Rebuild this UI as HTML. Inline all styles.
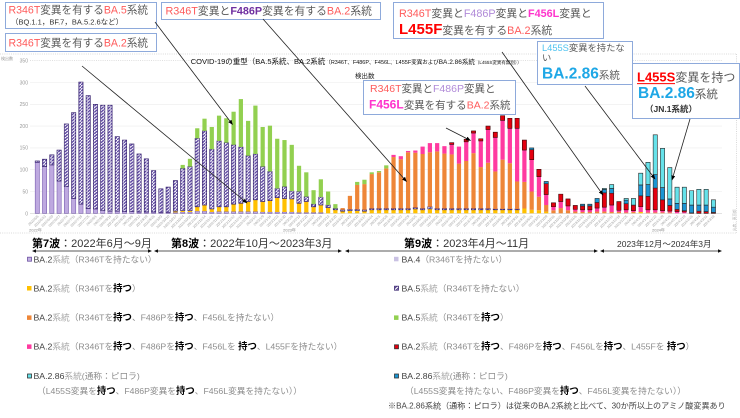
<!DOCTYPE html>
<html><head><meta charset="utf-8"><style>
html,body{margin:0;padding:0;background:#fff}
body{width:740px;height:418px;overflow:hidden;position:relative}
svg{position:absolute;left:0;top:0;font-family:"Liberation Sans","Noto Sans CJK JP",sans-serif}
.a{fill:#bea9e0;stroke:#7a5fb0;stroke-width:.6px;vector-effect:non-scaling-stroke}
.h{fill:url(#hp);stroke:#3a2670;stroke-width:.7px;vector-effect:non-scaling-stroke}
.y{fill:#ffc000}
.g{fill:#92d050}
.o{fill:#ee8638}
.k{fill:#ff3aa0}
.r{fill:#e3000f;stroke:#3a0a0a;stroke-width:.6px;vector-effect:non-scaling-stroke}
.c{fill:#66e2ea;stroke:#2a2a2a;stroke-width:.6px;vector-effect:non-scaling-stroke}
.b{fill:#1b95d3;stroke:#2a2a2a;stroke-width:.6px;vector-effect:non-scaling-stroke}
.gr{fill:#595959}.co{fill:#ff5b5b}
.lg{fill:#8c8c8c}.ld{fill:#404040}.ll{fill:#a6a6a6}
.bd{fill:#000;font-weight:bold;font-size:9.4px}
.bx{fill:#fff;stroke:#8eaadb;stroke-width:1}
</style></head><body>
<svg width="740" height="418" viewBox="0 0 740 418" xmlns="http://www.w3.org/2000/svg">
<defs>
<pattern id="hp" patternUnits="userSpaceOnUse" width="0.45" height="7">
<rect width="0.45" height="7" fill="#fff"/>
<polygon points="0,0 0.14,0 0.45,4.8 0.45,7 0.31,7 0,2.2" fill="#5a43a0"/>
</pattern>
<pattern id="hp2" patternUnits="userSpaceOnUse" width="2.4" height="2.4" patternTransform="rotate(45)">
<rect width="2.4" height="2.4" fill="#fff"/><rect width="1.1" height="2.4" fill="#4a3486"/>
</pattern>
<marker id="ah" viewBox="0 0 10 10" refX="9" refY="5" markerWidth="5" markerHeight="5" markerUnits="userSpaceOnUse" orient="auto"><path d="M0,1 L10,5 L0,9z" fill="#000"/></marker>
</defs>

<!-- chart frame -->
<g fill="none" stroke="#cfcfcf" stroke-width=".8" stroke-dasharray="1,1.2">
<line x1="0" y1="54" x2="737" y2="54"/>
<line x1="736.5" y1="54" x2="736.5" y2="233"/>
<line x1="0" y1="233" x2="737" y2="233"/>
</g>
<!-- gridlines -->
<g stroke="#ececec" stroke-width=".6">
<line x1="30" y1="191.5" x2="722" y2="191.5"/>
<line x1="30" y1="169.7" x2="722" y2="169.7"/>
<line x1="30" y1="147.9" x2="722" y2="147.9"/>
<line x1="30" y1="126.1" x2="722" y2="126.1"/>
<line x1="30" y1="104.3" x2="722" y2="104.3"/>
<line x1="30" y1="82.5" x2="722" y2="82.5"/>
</g>
<line x1="30" y1="60.7" x2="722" y2="60.7" stroke="#cccccc" stroke-width=".7" stroke-dasharray="1,1.2"/>
<line x1="30" y1="213.5" x2="722" y2="213.5" stroke="#d9d9d9" stroke-width=".7"/>
<g font-size="5" fill="#999" text-anchor="end">
<text x="28" y="215.3">0</text><text x="28" y="193.3">50</text><text x="28" y="171.5">100</text><text x="28" y="149.7">150</text><text x="28" y="127.9">200</text><text x="28" y="106.1">250</text><text x="28" y="84.3">300</text><text x="28" y="62.5">350</text>
</g>
<text x="1" y="60" font-size="4" fill="#999">検出数</text>

<!-- bars -->
<g id="bars" transform="translate(35.2,213.3) scale(7.27,-0.436)">
<rect x="0" y="0" width=".58" height="117" class="a"/><rect x="0" y="117" width=".58" height="3" class="h"/>
<rect x="1" y="0" width=".58" height="107" class="a"/><rect x="1" y="107" width=".58" height="17" class="h"/>
<rect x="2" y="0" width=".58" height="111" class="a"/><rect x="2" y="111" width=".58" height="23" class="h"/>
<rect x="3" y="0" width=".58" height="74" class="a"/><rect x="3" y="74" width=".58" height="71" class="h"/>
<rect x="4" y="0" width=".58" height="61" class="a"/><rect x="4" y="61" width=".58" height="144" class="h"/>
<rect x="5" y="0" width=".58" height="34" class="a"/><rect x="5" y="34" width=".58" height="197" class="h"/>
<rect x="6" y="0" width=".58" height="21" class="a"/><rect x="6" y="21" width=".58" height="280" class="h"/>
<rect x="7" y="0" width=".58" height="11" class="a"/><rect x="7" y="11" width=".58" height="259" class="h"/>
<rect x="8" y="0" width=".58" height="10" class="a"/><rect x="8" y="10" width=".58" height="240" class="h"/>
<rect x="9" y="0" width=".58" height="6" class="a"/><rect x="9" y="6" width=".58" height="242" class="h"/>
<rect x="10" y="0" width=".58" height="5" class="a"/><rect x="10" y="5" width=".58" height="243" class="h"/>
<rect x="11" y="0" width=".58" height="5" class="a"/><rect x="11" y="5" width=".58" height="171" class="h"/>
<rect x="12" y="0" width=".58" height="4" class="a"/><rect x="12" y="4" width=".58" height="164" class="h"/>
<rect x="13" y="0" width=".58" height="4" class="a"/><rect x="13" y="4" width=".58" height="155" class="h"/>
<rect x="14" y="0" width=".58" height="3" class="a"/><rect x="14" y="3" width=".58" height="133" class="h"/>
<rect x="15" y="0" width=".58" height="3" class="a"/><rect x="15" y="3" width=".58" height="122" class="h"/>
<rect x="16" y="0" width=".58" height="3" class="a"/><rect x="16" y="3" width=".58" height="95" class="h"/>
<rect x="17" y="0" width=".58" height="2" class="a"/><rect x="17" y="2" width=".58" height="54" class="h"/>
<rect x="18" y="0" width=".58" height="2" class="a"/><rect x="18" y="2" width=".58" height="58" class="h"/>
<rect x="19" y="0" width=".58" height="2" class="a"/><rect x="19" y="2" width=".58" height="3" class="y"/><rect x="19" y="5" width=".58" height="70" class="h"/>
<rect x="20" y="0" width=".58" height="3" class="a"/><rect x="20" y="3" width=".58" height="3" class="y"/><rect x="20" y="6" width=".58" height="97" class="h"/><rect x="20" y="103" width=".58" height="8" class="g"/>
<rect x="21" y="0" width=".58" height="3" class="a"/><rect x="21" y="3" width=".58" height="3" class="y"/><rect x="21" y="6" width=".58" height="101" class="h"/><rect x="21" y="107" width=".58" height="18" class="g"/>
<rect x="22" y="0" width=".58" height="5" class="a"/><rect x="22" y="5" width=".58" height="10" class="y"/><rect x="22" y="15" width=".58" height="157" class="h"/><rect x="22" y="172" width=".58" height="23" class="g"/>
<rect x="23" y="0" width=".58" height="5" class="a"/><rect x="23" y="5" width=".58" height="14" class="y"/><rect x="23" y="19" width=".58" height="170" class="h"/><rect x="23" y="189" width=".58" height="28" class="g"/>
<rect x="24" y="0" width=".58" height="3" class="a"/><rect x="24" y="3" width=".58" height="7" class="y"/><rect x="24" y="10" width=".58" height="137" class="h"/><rect x="24" y="147" width=".58" height="51" class="g"/>
<rect x="25" y="0" width=".58" height="4" class="a"/><rect x="25" y="4" width=".58" height="11" class="y"/><rect x="25" y="15" width=".58" height="151" class="h"/><rect x="25" y="166" width=".58" height="58" class="g"/>
<rect x="26" y="0" width=".58" height="4" class="a"/><rect x="26" y="4" width=".58" height="11" class="y"/><rect x="26" y="15" width=".58" height="147" class="h"/><rect x="26" y="162" width=".58" height="56" class="g"/>
<rect x="27" y="0" width=".58" height="4" class="a"/><rect x="27" y="4" width=".58" height="17" class="y"/><rect x="27" y="21" width=".58" height="136" class="h"/><rect x="27" y="157" width=".58" height="76" class="g"/>
<rect x="28" y="0" width=".58" height="4" class="a"/><rect x="28" y="4" width=".58" height="19" class="y"/><rect x="28" y="23" width=".58" height="129" class="h"/><rect x="28" y="152" width=".58" height="110" class="g"/>
<rect x="29" y="0" width=".58" height="4" class="a"/><rect x="29" y="4" width=".58" height="23" class="y"/><rect x="29" y="27" width=".58" height="105" class="h"/><rect x="29" y="132" width=".58" height="80" class="g"/>
<rect x="30" y="0" width=".58" height="4" class="a"/><rect x="30" y="4" width=".58" height="27" class="y"/><rect x="30" y="31" width=".58" height="105" class="h"/><rect x="30" y="136" width=".58" height="111" class="g"/>
<rect x="31" y="0" width=".58" height="3" class="a"/><rect x="31" y="3" width=".58" height="24" class="y"/><rect x="31" y="27" width=".58" height="80" class="h"/><rect x="31" y="107" width=".58" height="91" class="g"/>
<rect x="32" y="0" width=".58" height="3" class="a"/><rect x="32" y="3" width=".58" height="26" class="y"/><rect x="32" y="29" width=".58" height="67" class="h"/><rect x="32" y="96" width=".58" height="105" class="g"/>
<rect x="33" y="0" width=".58" height="3" class="a"/><rect x="33" y="3" width=".58" height="33" class="y"/><rect x="33" y="36" width=".58" height="21" class="h"/><rect x="33" y="57" width=".58" height="114" class="g"/>
<rect x="34" y="0" width=".58" height="3" class="a"/><rect x="34" y="3" width=".58" height="31" class="y"/><rect x="34" y="34" width=".58" height="27" class="h"/><rect x="34" y="61" width=".58" height="107" class="g"/>
<rect x="35" y="0" width=".58" height="3" class="a"/><rect x="35" y="3" width=".58" height="30" class="y"/><rect x="35" y="33" width=".58" height="18" class="h"/><rect x="35" y="51" width=".58" height="106" class="g"/>
<rect x="36" y="0" width=".58" height="2" class="a"/><rect x="36" y="2" width=".58" height="21" class="y"/><rect x="36" y="23" width=".58" height="27" class="h"/><rect x="36" y="50" width=".58" height="59" class="g"/>
<rect x="37" y="0" width=".58" height="2" class="a"/><rect x="37" y="2" width=".58" height="25" class="y"/><rect x="37" y="27" width=".58" height="11" class="h"/><rect x="37" y="38" width=".58" height="56" class="g"/>
<rect x="38" y="0" width=".58" height="2" class="a"/><rect x="38" y="2" width=".58" height="13" class="y"/><rect x="38" y="15" width=".58" height="6" class="h"/><rect x="38" y="21" width=".58" height="32" class="g"/>
<rect x="39" y="0" width=".58" height="2" class="a"/><rect x="39" y="2" width=".58" height="17" class="y"/><rect x="39" y="19" width=".58" height="18" class="h"/><rect x="39" y="37" width=".58" height="41" class="g"/>
<rect x="40" y="0" width=".58" height="13" class="y"/><rect x="40" y="13" width=".58" height="6" class="h"/><rect x="40" y="19" width=".58" height="31" class="g"/>
<rect x="41" y="0" width=".58" height="8" class="y"/><rect x="41" y="8" width=".58" height="3" class="h"/><rect x="41" y="11" width=".58" height="10" class="g"/>
<rect x="42" y="0" width=".58" height="5" class="y"/><rect x="42" y="5" width=".58" height="3" class="h"/><rect x="42" y="8" width=".58" height="4" class="o"/>
<rect x="43" y="0" width=".58" height="6" class="y"/><rect x="43" y="6" width=".58" height="3" class="h"/><rect x="43" y="9" width=".58" height="31" class="o"/>
<rect x="44" y="0" width=".58" height="6" class="y"/><rect x="44" y="6" width=".58" height="3" class="h"/><rect x="44" y="9" width=".58" height="56" class="o"/><rect x="44" y="65" width=".58" height="7" class="g"/>
<rect x="45" y="0" width=".58" height="5" class="y"/><rect x="45" y="5" width=".58" height="3" class="h"/><rect x="45" y="8" width=".58" height="59" class="o"/><rect x="45" y="67" width=".58" height="10" class="g"/>
<rect x="46" y="0" width=".58" height="8" class="y"/><rect x="46" y="8" width=".58" height="3" class="h"/><rect x="46" y="11" width=".58" height="79" class="o"/><rect x="46" y="90" width=".58" height="4" class="g"/>
<rect x="47" y="0" width=".58" height="8" class="y"/><rect x="47" y="8" width=".58" height="3" class="h"/><rect x="47" y="11" width=".58" height="83" class="o"/><rect x="47" y="94" width=".58" height="3" class="g"/>
<rect x="48" y="0" width=".58" height="8" class="y"/><rect x="48" y="8" width=".58" height="3" class="h"/><rect x="48" y="11" width=".58" height="92" class="o"/><rect x="48" y="103" width=".58" height="7" class="g"/>
<rect x="49" y="0" width=".58" height="8" class="y"/><rect x="49" y="8" width=".58" height="3" class="h"/><rect x="49" y="11" width=".58" height="118" class="o"/><rect x="49" y="129" width=".58" height="5" class="k"/>
<rect x="50" y="0" width=".58" height="8" class="y"/><rect x="50" y="8" width=".58" height="3" class="h"/><rect x="50" y="11" width=".58" height="113" class="o"/><rect x="50" y="124" width=".58" height="7" class="k"/>
<rect x="51" y="0" width=".58" height="8" class="y"/><rect x="51" y="8" width=".58" height="3" class="h"/><rect x="51" y="11" width=".58" height="129" class="o"/><rect x="51" y="140" width=".58" height="3" class="k"/>
<rect x="52" y="0" width=".58" height="10" class="y"/><rect x="52" y="10" width=".58" height="3" class="h"/><rect x="52" y="13" width=".58" height="126" class="o"/><rect x="52" y="139" width=".58" height="5" class="k"/>
<rect x="53" y="0" width=".58" height="8" class="y"/><rect x="53" y="8" width=".58" height="3" class="h"/><rect x="53" y="11" width=".58" height="125" class="o"/><rect x="53" y="136" width=".58" height="17" class="k"/>
<rect x="54" y="0" width=".58" height="10" class="y"/><rect x="54" y="10" width=".58" height="5" class="h"/><rect x="54" y="15" width=".58" height="125" class="o"/><rect x="54" y="140" width=".58" height="21" class="k"/>
<rect x="55" y="0" width=".58" height="8" class="y"/><rect x="55" y="8" width=".58" height="3" class="h"/><rect x="55" y="11" width=".58" height="131" class="o"/><rect x="55" y="142" width=".58" height="19" class="k"/>
<rect x="56" y="0" width=".58" height="8" class="y"/><rect x="56" y="8" width=".58" height="3" class="h"/><rect x="56" y="11" width=".58" height="126" class="o"/><rect x="56" y="137" width=".58" height="17" class="k"/>
<rect x="57" y="0" width=".58" height="8" class="y"/><rect x="57" y="8" width=".58" height="3" class="h"/><rect x="57" y="11" width=".58" height="124" class="o"/><rect x="57" y="135" width=".58" height="23" class="k"/><rect x="57" y="158" width=".58" height="4" class="r"/>
<rect x="58" y="0" width=".58" height="8" class="y"/><rect x="58" y="8" width=".58" height="3" class="h"/><rect x="58" y="11" width=".58" height="103" class="o"/><rect x="58" y="114" width=".58" height="39" class="k"/>
<rect x="59" y="0" width=".58" height="8" class="y"/><rect x="59" y="8" width=".58" height="3" class="h"/><rect x="59" y="11" width=".58" height="109" class="o"/><rect x="59" y="120" width=".58" height="44" class="k"/><rect x="59" y="164" width=".58" height="6" class="r"/>
<rect x="60" y="0" width=".58" height="8" class="y"/><rect x="60" y="8" width=".58" height="3" class="h"/><rect x="60" y="11" width=".58" height="127" class="o"/><rect x="60" y="138" width=".58" height="46" class="k"/><rect x="60" y="184" width=".58" height="5" class="r"/>
<rect x="61" y="0" width=".58" height="8" class="y"/><rect x="61" y="8" width=".58" height="3" class="h"/><rect x="61" y="11" width=".58" height="95" class="o"/><rect x="61" y="106" width=".58" height="60" class="k"/><rect x="61" y="166" width=".58" height="5" class="r"/>
<rect x="62" y="0" width=".58" height="8" class="y"/><rect x="62" y="8" width=".58" height="3" class="h"/><rect x="62" y="11" width=".58" height="105" class="o"/><rect x="62" y="116" width=".58" height="76" class="k"/><rect x="62" y="192" width=".58" height="8" class="r"/>
<rect x="63" y="0" width=".58" height="8" class="y"/><rect x="63" y="8" width=".58" height="2" class="h"/><rect x="63" y="10" width=".58" height="86" class="o"/><rect x="63" y="96" width=".58" height="78" class="k"/><rect x="63" y="174" width=".58" height="12" class="r"/>
<rect x="64" y="0" width=".58" height="8" class="y"/><rect x="64" y="8" width=".58" height="2" class="h"/><rect x="64" y="10" width=".58" height="113" class="o"/><rect x="64" y="123" width=".58" height="90" class="k"/><rect x="64" y="213" width=".58" height="11" class="r"/>
<rect x="65" y="0" width=".58" height="8" class="y"/><rect x="65" y="8" width=".58" height="2" class="h"/><rect x="65" y="10" width=".58" height="105" class="o"/><rect x="65" y="115" width=".58" height="80" class="k"/><rect x="65" y="195" width=".58" height="23" class="r"/>
<rect x="66" y="0" width=".58" height="8" class="y"/><rect x="66" y="8" width=".58" height="2" class="h"/><rect x="66" y="10" width=".58" height="63" class="o"/><rect x="66" y="73" width=".58" height="122" class="k"/><rect x="66" y="195" width=".58" height="23" class="r"/>
<rect x="67" y="0" width=".58" height="11" class="y"/><rect x="67" y="11" width=".58" height="61" class="o"/><rect x="67" y="72" width=".58" height="73" class="k"/><rect x="67" y="145" width=".58" height="23" class="r"/>
<rect x="68" y="0" width=".58" height="8" class="y"/><rect x="68" y="8" width=".58" height="42" class="o"/><rect x="68" y="50" width=".58" height="73" class="k"/><rect x="68" y="123" width=".58" height="23" class="r"/><rect x="68" y="146" width=".58" height="4" class="b"/>
<rect x="69" y="0" width=".58" height="7" class="y"/><rect x="69" y="7" width=".58" height="31" class="o"/><rect x="69" y="38" width=".58" height="46" class="k"/><rect x="69" y="84" width=".58" height="17" class="r"/>
<rect x="70" y="0" width=".58" height="4" class="y"/><rect x="70" y="4" width=".58" height="15" class="o"/><rect x="70" y="19" width=".58" height="24" class="k"/><rect x="70" y="43" width=".58" height="25" class="r"/><rect x="70" y="68" width=".58" height="5" class="b"/>
<rect x="71" y="0" width=".58" height="7" class="o"/><rect x="71" y="7" width=".58" height="8" class="k"/><rect x="71" y="15" width=".58" height="9" class="r"/>
<rect x="72" y="0" width=".58" height="12" class="o"/><rect x="72" y="12" width=".58" height="15" class="k"/><rect x="72" y="27" width=".58" height="17" class="r"/>
<rect x="73" y="0" width=".58" height="7" class="o"/><rect x="73" y="7" width=".58" height="10" class="k"/><rect x="73" y="17" width=".58" height="16" class="r"/>
<rect x="74" y="0" width=".58" height="4" class="o"/><rect x="74" y="4" width=".58" height="5" class="k"/><rect x="74" y="9" width=".58" height="9" class="r"/>
<rect x="75" y="0" width=".58" height="3" class="o"/><rect x="75" y="3" width=".58" height="5" class="k"/><rect x="75" y="8" width=".58" height="9" class="r"/><rect x="75" y="17" width=".58" height="4" class="b"/>
<rect x="76" y="0" width=".58" height="3" class="o"/><rect x="76" y="3" width=".58" height="5" class="k"/><rect x="76" y="8" width=".58" height="9" class="r"/><rect x="76" y="17" width=".58" height="4" class="b"/>
<rect x="77" y="0" width=".58" height="4" class="o"/><rect x="77" y="4" width=".58" height="8" class="k"/><rect x="77" y="12" width=".58" height="13" class="r"/><rect x="77" y="25" width=".58" height="9" class="b"/>
<rect x="78" y="0" width=".58" height="4" class="o"/><rect x="78" y="4" width=".58" height="10" class="k"/><rect x="78" y="14" width=".58" height="33" class="r"/><rect x="78" y="47" width=".58" height="8" class="b"/><rect x="78" y="55" width=".58" height="2" class="c"/>
<rect x="79" y="0" width=".58" height="3" class="o"/><rect x="79" y="3" width=".58" height="16" class="k"/><rect x="79" y="19" width=".58" height="27" class="r"/><rect x="79" y="46" width=".58" height="11" class="b"/><rect x="79" y="57" width=".58" height="9" class="c"/>
<rect x="80" y="0" width=".58" height="3" class="o"/><rect x="80" y="3" width=".58" height="4" class="k"/><rect x="80" y="7" width=".58" height="20" class="r"/>
<rect x="81" y="0" width=".58" height="2" class="o"/><rect x="81" y="2" width=".58" height="6" class="k"/><rect x="81" y="8" width=".58" height="14" class="r"/><rect x="81" y="22" width=".58" height="8" class="b"/><rect x="81" y="30" width=".58" height="4" class="c"/>
<rect x="82" y="0" width=".58" height="3" class="o"/><rect x="82" y="3" width=".58" height="3" class="k"/><rect x="82" y="6" width=".58" height="13" class="r"/><rect x="82" y="19" width=".58" height="15" class="c"/>
<rect x="83" y="0" width=".58" height="3" class="y"/><rect x="83" y="3" width=".58" height="12" class="k"/><rect x="83" y="15" width=".58" height="25" class="r"/><rect x="83" y="40" width=".58" height="25" class="b"/><rect x="83" y="65" width=".58" height="27" class="c"/>
<rect x="84" y="0" width=".58" height="2" class="o"/><rect x="84" y="2" width=".58" height="6" class="k"/><rect x="84" y="8" width=".58" height="31" class="r"/><rect x="84" y="39" width=".58" height="27" class="b"/><rect x="84" y="66" width=".58" height="51" class="c"/>
<rect x="85" y="0" width=".58" height="2" class="o"/><rect x="85" y="2" width=".58" height="6" class="k"/><rect x="85" y="8" width=".58" height="50" class="r"/><rect x="85" y="58" width=".58" height="31" class="b"/><rect x="85" y="89" width=".58" height="91" class="c"/>
<rect x="86" y="0" width=".58" height="2" class="o"/><rect x="86" y="2" width=".58" height="4" class="k"/><rect x="86" y="6" width=".58" height="25" class="r"/><rect x="86" y="31" width=".58" height="28" class="b"/><rect x="86" y="59" width=".58" height="90" class="c"/>
<rect x="87" y="0" width=".58" height="2" class="o"/><rect x="87" y="2" width=".58" height="3" class="k"/><rect x="87" y="5" width=".58" height="13" class="r"/><rect x="87" y="18" width=".58" height="15" class="b"/><rect x="87" y="33" width=".58" height="72" class="c"/>
<rect x="88" y="0" width=".58" height="4" class="k"/><rect x="88" y="4" width=".58" height="5" class="r"/><rect x="88" y="9" width=".58" height="14" class="b"/><rect x="88" y="23" width=".58" height="37" class="c"/>
<rect x="89" y="0" width=".58" height="3" class="k"/><rect x="89" y="3" width=".58" height="3" class="r"/><rect x="89" y="6" width=".58" height="17" class="b"/><rect x="89" y="23" width=".58" height="37" class="c"/>
<rect x="90" y="0" width=".58" height="1" class="r"/><rect x="90" y="1" width=".58" height="18" class="b"/><rect x="90" y="19" width=".58" height="33" class="c"/>
<rect x="91" y="0" width=".58" height="5" class="r"/><rect x="91" y="5" width=".58" height="14" class="b"/><rect x="91" y="19" width=".58" height="36" class="c"/>
<rect x="92" y="0" width=".58" height="4" class="r"/><rect x="92" y="4" width=".58" height="15" class="b"/><rect x="92" y="19" width=".58" height="36" class="c"/>
<rect x="93" y="0" width=".58" height="2" class="r"/><rect x="93" y="2" width=".58" height="12" class="b"/><rect x="93" y="14" width=".58" height="17" class="c"/>
</g>

<!-- x tick labels -->
<g font-size="3.4" fill="#9a9a9a" text-anchor="end">
<text transform="translate(38.8,216.5) rotate(-45)">2022/6/6</text>
<text transform="translate(46.1,216.5) rotate(-45)">2022/6/13</text>
<text transform="translate(53.3,216.5) rotate(-45)">2022/6/20</text>
<text transform="translate(60.6,216.5) rotate(-45)">2022/6/27</text>
<text transform="translate(67.9,216.5) rotate(-45)">2022/7/4</text>
<text transform="translate(75.2,216.5) rotate(-45)">2022/7/11</text>
<text transform="translate(82.4,216.5) rotate(-45)">2022/7/18</text>
<text transform="translate(89.7,216.5) rotate(-45)">2022/7/25</text>
<text transform="translate(97,216.5) rotate(-45)">2022/8/1</text>
<text transform="translate(104.2,216.5) rotate(-45)">2022/8/8</text>
<text transform="translate(111.5,216.5) rotate(-45)">2022/8/15</text>
<text transform="translate(118.8,216.5) rotate(-45)">2022/8/22</text>
<text transform="translate(126,216.5) rotate(-45)">2022/8/29</text>
<text transform="translate(133.3,216.5) rotate(-45)">2022/9/5</text>
<text transform="translate(140.6,216.5) rotate(-45)">2022/9/12</text>
<text transform="translate(147.9,216.5) rotate(-45)">2022/9/19</text>
<text transform="translate(155.1,216.5) rotate(-45)">2022/9/26</text>
<text transform="translate(162.4,216.5) rotate(-45)">2022/10/3</text>
<text transform="translate(169.7,216.5) rotate(-45)">2022/10/10</text>
<text transform="translate(176.9,216.5) rotate(-45)">2022/10/17</text>
<text transform="translate(184.2,216.5) rotate(-45)">2022/10/24</text>
<text transform="translate(191.5,216.5) rotate(-45)">2022/10/31</text>
<text transform="translate(198.7,216.5) rotate(-45)">2022/11/7</text>
<text transform="translate(206,216.5) rotate(-45)">2022/11/14</text>
<text transform="translate(213.3,216.5) rotate(-45)">2022/11/21</text>
<text transform="translate(220.6,216.5) rotate(-45)">2022/11/28</text>
<text transform="translate(227.8,216.5) rotate(-45)">2022/12/5</text>
<text transform="translate(235.1,216.5) rotate(-45)">2022/12/12</text>
<text transform="translate(242.4,216.5) rotate(-45)">2022/12/19</text>
<text transform="translate(249.6,216.5) rotate(-45)">2022/12/26</text>
<text transform="translate(256.9,216.5) rotate(-45)">2023/1/2</text>
<text transform="translate(264.2,216.5) rotate(-45)">2023/1/9</text>
<text transform="translate(271.4,216.5) rotate(-45)">2023/1/16</text>
<text transform="translate(278.7,216.5) rotate(-45)">2023/1/23</text>
<text transform="translate(286,216.5) rotate(-45)">2023/1/30</text>
<text transform="translate(293.3,216.5) rotate(-45)">2023/2/6</text>
<text transform="translate(300.5,216.5) rotate(-45)">2023/2/13</text>
<text transform="translate(307.8,216.5) rotate(-45)">2023/2/20</text>
<text transform="translate(315.1,216.5) rotate(-45)">2023/2/27</text>
<text transform="translate(322.3,216.5) rotate(-45)">2023/3/6</text>
<text transform="translate(329.6,216.5) rotate(-45)">2023/3/13</text>
<text transform="translate(336.9,216.5) rotate(-45)">2023/3/20</text>
<text transform="translate(344.1,216.5) rotate(-45)">2023/3/27</text>
<text transform="translate(351.4,216.5) rotate(-45)">2023/4/3</text>
<text transform="translate(358.7,216.5) rotate(-45)">2023/4/10</text>
<text transform="translate(366,216.5) rotate(-45)">2023/4/17</text>
<text transform="translate(373.2,216.5) rotate(-45)">2023/4/24</text>
<text transform="translate(380.5,216.5) rotate(-45)">2023/5/1</text>
<text transform="translate(387.8,216.5) rotate(-45)">2023/5/8</text>
<text transform="translate(395,216.5) rotate(-45)">2023/5/15</text>
<text transform="translate(402.3,216.5) rotate(-45)">2023/5/22</text>
<text transform="translate(409.6,216.5) rotate(-45)">2023/5/29</text>
<text transform="translate(416.8,216.5) rotate(-45)">2023/6/5</text>
<text transform="translate(424.1,216.5) rotate(-45)">2023/6/12</text>
<text transform="translate(431.4,216.5) rotate(-45)">2023/6/19</text>
<text transform="translate(438.7,216.5) rotate(-45)">2023/6/26</text>
<text transform="translate(445.9,216.5) rotate(-45)">2023/7/3</text>
<text transform="translate(453.2,216.5) rotate(-45)">2023/7/10</text>
<text transform="translate(460.5,216.5) rotate(-45)">2023/7/17</text>
<text transform="translate(467.7,216.5) rotate(-45)">2023/7/24</text>
<text transform="translate(475,216.5) rotate(-45)">2023/7/31</text>
<text transform="translate(482.3,216.5) rotate(-45)">2023/8/7</text>
<text transform="translate(489.5,216.5) rotate(-45)">2023/8/14</text>
<text transform="translate(496.8,216.5) rotate(-45)">2023/8/21</text>
<text transform="translate(504.1,216.5) rotate(-45)">2023/8/28</text>
<text transform="translate(511.4,216.5) rotate(-45)">2023/9/4</text>
<text transform="translate(518.6,216.5) rotate(-45)">2023/9/11</text>
<text transform="translate(525.9,216.5) rotate(-45)">2023/9/18</text>
<text transform="translate(533.2,216.5) rotate(-45)">2023/9/25</text>
<text transform="translate(540.4,216.5) rotate(-45)">2023/10/2</text>
<text transform="translate(547.7,216.5) rotate(-45)">2023/10/9</text>
<text transform="translate(555,216.5) rotate(-45)">2023/10/16</text>
<text transform="translate(562.2,216.5) rotate(-45)">2023/10/23</text>
<text transform="translate(569.5,216.5) rotate(-45)">2023/10/30</text>
<text transform="translate(576.8,216.5) rotate(-45)">2023/11/6</text>
<text transform="translate(584.1,216.5) rotate(-45)">2023/11/13</text>
<text transform="translate(591.3,216.5) rotate(-45)">2023/11/20</text>
<text transform="translate(598.6,216.5) rotate(-45)">2023/11/27</text>
<text transform="translate(605.9,216.5) rotate(-45)">2023/12/4</text>
<text transform="translate(613.1,216.5) rotate(-45)">2023/12/11</text>
<text transform="translate(620.4,216.5) rotate(-45)">2023/12/18</text>
<text transform="translate(627.7,216.5) rotate(-45)">2023/12/25</text>
<text transform="translate(634.9,216.5) rotate(-45)">2024/1/1</text>
<text transform="translate(642.2,216.5) rotate(-45)">2024/1/8</text>
<text transform="translate(649.5,216.5) rotate(-45)">2024/1/15</text>
<text transform="translate(656.8,216.5) rotate(-45)">2024/1/22</text>
<text transform="translate(664,216.5) rotate(-45)">2024/1/29</text>
<text transform="translate(671.3,216.5) rotate(-45)">2024/2/5</text>
<text transform="translate(678.6,216.5) rotate(-45)">2024/2/12</text>
<text transform="translate(685.8,216.5) rotate(-45)">2024/2/19</text>
<text transform="translate(693.1,216.5) rotate(-45)">2024/2/26</text>
<text transform="translate(700.4,216.5) rotate(-45)">2024/3/4</text>
<text transform="translate(707.6,216.5) rotate(-45)">2024/3/11</text>
<text transform="translate(714.9,216.5) rotate(-45)">2024/3/18</text>
</g>
<g font-size="4" fill="#888">
<text x="29" y="231.5">2022年</text><text x="283" y="231.5">2023年</text><text x="652" y="231.5">2024年</text>
</g>
<text transform="translate(735.5,231) rotate(-90)" font-size="3.6" fill="#b5b5b5">出典：東京都</text>

<!-- chart title -->
<text x="190.7" y="64" font-size="7.5" fill="#111">COVID-19の重型（BA.5系統、BA.2系統<tspan font-size="5.5">（R346T、F486P、F456L、L455F変異および</tspan><tspan font-size="6.5">BA.2.86系統</tspan><tspan font-size="4.5">（L455S変異有無別））</tspan></text>
<text x="355" y="78" font-size="6.5" fill="#222">検出数</text>

<!-- callout boxes -->
<rect class="bx" x="5.5" y="2.5" width="151" height="26"/>
<text x="8.5" y="13.5" font-size="10.6"><tspan class="co">R346T</tspan><tspan class="gr">変異を有する</tspan><tspan class="co">BA.5</tspan><tspan class="gr">系統</tspan></text>
<text x="11" y="24.5" font-size="7.5" fill="#333">（BQ.1.1，BF.7，BA.5.2.6など）</text>

<rect class="bx" x="5.5" y="33.5" width="151" height="18"/>
<text x="8.5" y="46.5" font-size="10.6"><tspan class="co">R346T</tspan><tspan class="gr">変異を有する</tspan><tspan class="co">BA.2</tspan><tspan class="gr">系統</tspan></text>

<rect class="bx" x="161.5" y="2.5" width="219" height="17"/>
<text x="165.5" y="14.5" font-size="10.8"><tspan class="co">R346T</tspan><tspan class="gr">変異と</tspan><tspan fill="#7030a0" font-weight="bold">F486P</tspan><tspan class="gr">変異を有する</tspan><tspan class="co">BA.2</tspan><tspan class="gr">系統</tspan></text>

<rect class="bx" x="393.5" y="2.5" width="210" height="36"/>
<text x="399" y="17" font-size="10.8"><tspan class="co">R346T</tspan><tspan class="gr">変異と</tspan><tspan fill="#b08ad8">F486P</tspan><tspan class="gr">変異と</tspan><tspan fill="#ff33cc" font-weight="bold">F456L</tspan><tspan class="gr">変異と</tspan></text>
<text x="399" y="34" font-size="10.8"><tspan fill="#ff0000" font-weight="bold" font-size="15">L455F</tspan><tspan class="gr">変異を有する</tspan><tspan class="co">BA.2</tspan><tspan class="gr">系統</tspan></text>

<rect class="bx" x="363.5" y="80.5" width="152" height="34"/>
<text x="370" y="92" font-size="10.5"><tspan class="co">R346T</tspan><tspan class="gr">変異と</tspan><tspan fill="#b08ad8">F486P</tspan><tspan class="gr">変異と</tspan></text>
<text x="369" y="108.5" font-size="10.5"><tspan fill="#ff33cc" font-weight="bold" font-size="12">F456L</tspan><tspan class="gr">変異を有する</tspan><tspan class="co">BA.2</tspan><tspan class="gr">系統</tspan></text>

<rect class="bx" x="537.5" y="41.5" width="95" height="43"/>
<text x="542" y="51" font-size="9.3"><tspan fill="#4fc3f0">L455S</tspan><tspan class="gr">変異を持たな</tspan></text>
<text x="542" y="61" font-size="9.3" class="gr">い</text>
<text x="542" y="78.5" font-size="10.5"><tspan fill="#1ea7e6" font-weight="bold" font-size="15.5">BA.2.86</tspan><tspan class="gr">系統</tspan></text>

<rect class="bx" x="632.5" y="63.5" width="107" height="55"/>
<text x="637" y="81.5" font-size="12"><tspan fill="#ff0000" font-weight="bold" font-size="13">L455S</tspan><tspan class="gr">変異を持つ</tspan></text>
<line x1="637" y1="83.6" x2="675" y2="83.6" stroke="#ff0000" stroke-width="1"/>
<text x="638" y="98" font-size="11.5"><tspan fill="#1ea7e6" font-weight="bold" font-size="15.5">BA.2.86</tspan><tspan class="gr">系統</tspan></text>
<text x="645" y="112" font-size="8.5" font-weight="bold" fill="#333">（JN.1系統）</text>

<!-- arrows -->
<g stroke="#222" stroke-width=".8" fill="none" marker-end="url(#ah)">
<line x1="155" y1="22" x2="232.5" y2="124.5"/>
<line x1="82" y1="66" x2="247" y2="203"/>
<line x1="263" y1="19" x2="406.5" y2="181.5"/>
<line x1="502" y1="52" x2="603" y2="195"/>
<line x1="585" y1="86" x2="655" y2="179"/>
<line x1="690" y1="119" x2="672" y2="180"/>
<line x1="446" y1="128" x2="470.5" y2="140.5"/>
</g>

<!-- wave labels -->
<g font-size="11">
<text x="32" y="247"><tspan font-weight="bold" fill="#000">第7波</tspan><tspan fill="#333">：2022年6月～9月</tspan></text>
<text x="171" y="247"><tspan font-weight="bold" fill="#000">第8波</tspan><tspan fill="#333">：2022年10月～2023年3月</tspan></text>
<text x="404" y="247"><tspan font-weight="bold" fill="#000">第9波</tspan><tspan fill="#333">：2023年4月～11月</tspan></text>
</g>
<text x="617" y="247" font-size="8.5" fill="#333">2023年12月～2024年3月</text>
<g stroke="#222" stroke-width=".8">
<line x1="33" y1="251" x2="151" y2="251"/>
<line x1="155" y1="251" x2="341" y2="251"/>
<line x1="346" y1="251" x2="597" y2="251"/>
<line x1="601" y1="251" x2="721" y2="251"/>
</g>
<g fill="#111">
<polygon points="32,251 36,249.2 36,252.8"/><polygon points="152,251 148,249.2 148,252.8"/>
<polygon points="154,251 158,249.2 158,252.8"/><polygon points="342,251 338,249.2 338,252.8"/>
<polygon points="345,251 349,249.2 349,252.8"/><polygon points="598,251 594,249.2 594,252.8"/>
<polygon points="600,251 604,249.2 604,252.8"/><polygon points="722,251 718,249.2 718,252.8"/>
</g>

<!-- legend icons -->
<rect x="27.5" y="257.2" width="4" height="4" fill="#c3b2e3" stroke="#6b4fa0" stroke-width=".8"/>
<rect x="27" y="286" width="4.5" height="4.5" fill="#ffc000"/>
<rect x="27" y="315.4" width="4.5" height="4.5" fill="#ee8638"/>
<rect x="27" y="344.4" width="4.5" height="4.5" fill="#ff3aa0"/>
<rect x="27.5" y="374" width="4" height="4" fill="#66e2ea" stroke="#333" stroke-width=".8"/>
<rect x="394" y="256.8" width="4.5" height="4.5" fill="#c9c1e3"/>
<rect x="394.5" y="286.2" width="4" height="4" fill="url(#hp2)" stroke="#3a2670" stroke-width=".8"/>
<rect x="394" y="315.4" width="4.5" height="4.5" fill="#92d050"/>
<rect x="394.5" y="344.8" width="4" height="4" fill="#e3000f" stroke="#333" stroke-width=".8"/>
<rect x="394.5" y="374" width="4" height="4" fill="#1b95d3" stroke="#333" stroke-width=".8"/>

<!-- legend texts -->
<g font-size="8.7">
<text x="33.5" y="262.3"><tspan class="ld">BA.2</tspan><tspan class="ll">系統</tspan><tspan class="lg">（R346Tを持たない）</tspan></text>
<text x="33.5" y="291.3"><tspan class="ld">BA.2</tspan><tspan class="ll">系統</tspan><tspan class="lg">（R346Tを</tspan><tspan class="bd">持つ</tspan><tspan class="lg">）</tspan></text>
<text x="33.5" y="320.7"><tspan class="ld">BA.2</tspan><tspan class="ll">系統</tspan><tspan class="lg">（R346Tを</tspan><tspan class="bd">持つ</tspan><tspan class="lg">、F486Pを</tspan><tspan class="bd">持つ</tspan><tspan class="lg">、F456Lを持たない）</tspan></text>
<text x="33.5" y="349.7"><tspan class="ld">BA.2</tspan><tspan class="ll">系統</tspan><tspan class="lg">（R346Tを</tspan><tspan class="bd">持つ</tspan><tspan class="lg">、F486Pを</tspan><tspan class="bd">持つ</tspan><tspan class="lg">、F456Lを </tspan><tspan class="bd">持つ</tspan><tspan class="lg">、L455Fを持たない）</tspan></text>
<text x="33.5" y="379"><tspan class="ld">BA.2.86</tspan><tspan class="ll">系統</tspan><tspan class="lg">(通称：ピロラ)</tspan></text>
<text x="37" y="394"><tspan class="lg">（L455S変異を</tspan><tspan class="bd">持つ</tspan><tspan class="lg">、F486P変異を</tspan><tspan class="bd">持つ</tspan><tspan class="lg">、F456L変異を持たない））</tspan></text>

<text x="401.5" y="262.3"><tspan class="ld">BA.4</tspan><tspan class="lg">（R346Tを持たない）</tspan></text>
<text x="401.5" y="291.3"><tspan class="ld">BA.5</tspan><tspan class="ll">系統</tspan><tspan class="lg">（R346Tを持たない）</tspan></text>
<text x="401.5" y="320.7"><tspan class="ld">BA.5</tspan><tspan class="ll">系統</tspan><tspan class="lg">（R346Tを</tspan><tspan class="bd">持つ</tspan><tspan class="lg">）</tspan></text>
<text x="401.5" y="349.7"><tspan class="ld">BA.2</tspan><tspan class="ll">系統</tspan><tspan class="lg">（R346Tを</tspan><tspan class="bd">持つ</tspan><tspan class="lg">、F486Pを</tspan><tspan class="bd">持つ</tspan><tspan class="lg">、F456Lを</tspan><tspan class="bd">持つ</tspan><tspan class="lg">、L455Fを </tspan><tspan class="bd">持つ</tspan><tspan class="lg">）</tspan></text>
<text x="401.5" y="379"><tspan class="ld">BA.2.86</tspan><tspan class="ll">系統</tspan><tspan class="lg">(通称：ピロラ)</tspan></text>
<text x="405" y="394"><tspan class="lg">（L455S変異を持たない、F486P変異を</tspan><tspan class="bd">持つ</tspan><tspan class="lg">、F456L変異を持たない））</tspan></text>
</g>
<text x="388" y="408.5" font-size="8.1" fill="#444">※BA.2.86系統（通称：ピロラ）は従来のBA.2系統と比べて、30か所以上のアミノ酸変異あり</text>
</svg>
</body></html>
